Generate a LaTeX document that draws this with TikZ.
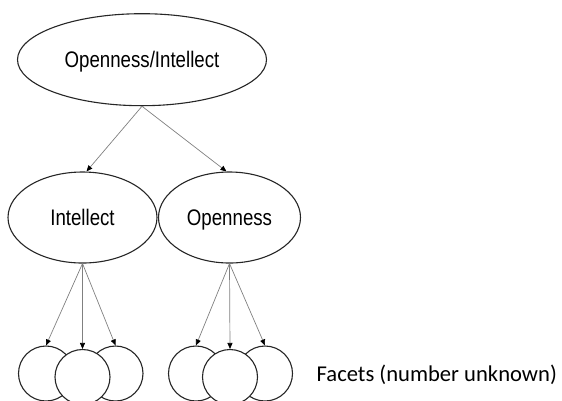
\documentclass[tikz,border=0pt]{standalone}
\usepackage{fontspec}
\newfontfamily\narrowsans{Liberation Sans}[FakeStretch=0.83]
\newfontfamily\facetfont{Carlito}
\usetikzlibrary{arrows.meta,shapes.geometric}
\definecolor{linkgray}{HTML}{808080}
\definecolor{outline}{HTML}{262626}

\begin{document}
\begin{tikzpicture}[x=1bp,y=-1bp,
  factor/.style={ellipse,draw=outline,line width=1.1bp,fill=white,inner sep=0pt,
    text height=16bp,text depth=0pt,font=\narrowsans\fontsize{22.5bp}{27bp}\selectfont},
  facet/.style={circle,draw=outline,line width=1.1bp,fill=white,inner sep=0pt,minimum size=55bp},
  link/.style={draw=linkgray,line width=0.7bp,-{Triangle[length=6bp,width=5bp,color=black]}}]
  \useasboundingbox (0,0) rectangle (562,400);
  % factors
  \node[factor,minimum width=249bp,minimum height=92bp] (openint) at (142,59.7) {Openness/Intellect};
  \node[factor,minimum width=149bp,minimum height=91bp] (intellect) at (82.5,217.5) {Intellect};
  \node[factor,minimum width=142bp,minimum height=91bp] (openness) at (229.5,217.5) {Openness};
  % facets, middle one on top
  \node[facet] (ia) at (46,373.5) {};
  \node[facet] (ic) at (115.5,373.5) {};
  \node[facet] (ib) at (82.5,377) {};
  \node[facet] (oa) at (196,373.5) {};
  \node[facet] (oc) at (265,373.5) {};
  \node[facet] (ob) at (230,377) {};
  \node[anchor=base west,inner sep=0pt,font=\facetfont\fontsize{22.6bp}{27bp}\selectfont] (facets) at (316.5,381) {Facets (number unknown)};
  % links
  \draw[link] (openint.south) -- ([xshift=4bp]intellect.north);
  \draw[link] (openint.south) -- ([xshift=-3bp]openness.north);
  \foreach \f in {ia,ib,ic} \draw[link] (intellect.south) -- (\f.north);
  \foreach \f in {oa,ob,oc} \draw[link] (openness.south) -- (\f.north);
\end{tikzpicture}
\end{document}
